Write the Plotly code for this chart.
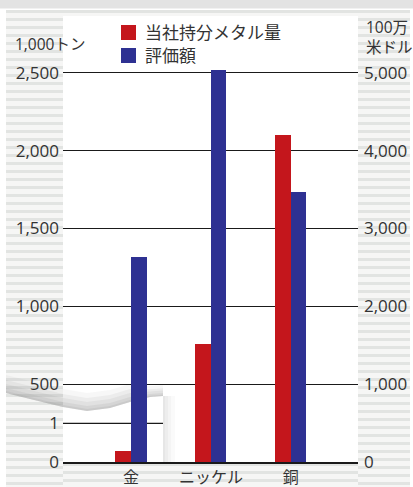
import plotly.graph_objects as go

# ---- data -------------------------------------------------------------
categories = ["金", "ニッケル", "銅"]
metal_kt = [0.29, 760, 2100]          # 当社持分メタル量 (1,000トン)
value_musd = [2630, 5030, 3470]       # 評価額 (100万米ドル)
inset_flags = [True, False, False]    # gold is read on the 0-1 inset scale

left_ticks = [500, 1000, 1500, 2000, 2500]
left_ticktext = ["500", "1,000", "1,500", "2,000", "2,500"]
inset_ticks = [0, 1]
right_ticks = [0, 1000, 2000, 3000, 4000, 5000]
right_ticktext = ["0", "1,000", "2,000", "3,000", "4,000", "5,000"]

RED = "#c4161c"
BLUE = "#2e3192"
TXT = "#333333"
FONT = "Open Sans, Noto Sans CJK JP"

# ---- geometry helpers (pixel -> paper) -------------------------------
WIDTH, HEIGHT = 413, 487
L, R, T, B = 63, 358, 16, 462
PW, PH = R - L, B - T


def px(x):
    return (x - L) / PW


def py(y):
    return (B - y) / PH


fig = go.Figure()

bar_w = 0.195
# red bars on the main left scale
main_idx = [i for i, f in enumerate(inset_flags) if not f]
fig.add_trace(go.Bar(
    x=[categories[i] for i in main_idx], y=[metal_kt[i] for i in main_idx],
    offset=-bar_w, width=bar_w, marker=dict(color=RED, line=dict(width=0)),
    yaxis="y", showlegend=False, hoverinfo="skip"))
# red bar read on the inset scale
inset_idx = [i for i, f in enumerate(inset_flags) if f]
fig.add_trace(go.Bar(
    x=[categories[i] for i in inset_idx], y=[metal_kt[i] for i in inset_idx],
    offset=-bar_w, width=bar_w, marker=dict(color=RED, line=dict(width=0)),
    yaxis="y3", showlegend=False, hoverinfo="skip"))
# blue bars on the right scale
fig.add_trace(go.Bar(
    x=categories, y=value_musd,
    offset=0, width=bar_w, marker=dict(color=BLUE, line=dict(width=0)),
    yaxis="y2", showlegend=False, hoverinfo="skip"))

shapes = []


def stripes(x0, x1, y0, y1, period=8, band=3):
    d = []
    y = y0
    while y < y1:
        yb = min(y + band, y1)
        d.append(f"M{px(x0)},{py(y)}L{px(x1)},{py(y)}L{px(x1)},{py(yb)}L{px(x0)},{py(yb)}Z")
        y += period
    return " ".join(d)


# striped surround
for (x0, x1, y0, y1) in [(6, L, 10, 487), (R, 410, 10, 487), (L, R, B + 1, 487), (6, 410, 10, 16)]:
    shapes.append(dict(type="rect", xref="paper", yref="paper",
                       x0=px(x0), x1=px(x1), y0=py(y0), y1=py(y1),
                       fillcolor="#f6f6f5", line=dict(width=0), layer="below"))
    shapes.append(dict(type="path", xref="paper", yref="paper",
                       path=stripes(x0, x1, y0, y1), fillcolor="#e2e4e2",
                       line=dict(width=0), layer="below"))

# top header band
shapes.append(dict(type="rect", xref="paper", yref="paper",
                   x0=px(0), x1=px(413), y0=py(0), y1=py(8.5),
                   fillcolor="#e3e3e3", line=dict(width=0), layer="below"))

# axis-break curl: curved shaded edge over a white sheet
curve = [(6, 393), (30, 399), (63, 407), (87, 411), (110, 408), (130, 402), (150, 397), (163, 396)]
for d, op in [(18, 0.07), (13, 0.09), (9, 0.11), (5, 0.13), (2, 0.15)]:
    top = [(x, y - d * (0.6 if x > 140 else 1.0)) for x, y in curve]
    pts = top + list(reversed(curve))
    shapes.append(dict(type="path", xref="paper", yref="paper",
                       path="M" + "L".join(f"{px(x)},{py(y)}" for x, y in pts) + "Z",
                       fillcolor="#8a8a8a", opacity=op, line=dict(width=0), layer="below"))
# soft shadow along the inset's right edge
for w, op in [(12, 0.04), (8, 0.05), (5, 0.06), (2, 0.07)]:
    shapes.append(dict(type="rect", xref="paper", yref="paper",
                       x0=px(163), x1=px(163 + w), y0=py(B), y1=py(396),
                       fillcolor="#8a8a8a", opacity=op, line=dict(width=0), layer="below"))

# inset gridline at "1" (short)
shapes.append(dict(type="line", xref="paper", yref="y3", x0=0, x1=px(163),
                   y0=1, y1=1, line=dict(color="#1a1a1a", width=1.3), layer="below"))

# legend
for (y0, col) in [(25, RED), (48, BLUE)]:
    shapes.append(dict(type="rect", xref="paper", yref="paper",
                       x0=px(121), x1=px(136), y0=py(y0 + 15), y1=py(y0),
                       fillcolor=col, line=dict(width=0)))

annotations = [
    dict(text="当社持分メタル量", x=px(143), y=py(32.5), xanchor="left", yanchor="middle", size=17),
    dict(text="評価額", x=px(143), y=py(55.5), xanchor="left", yanchor="middle", size=17),
    dict(text="1,000トン", x=px(13), y=py(44), xanchor="left", yanchor="middle", size=15.5),
    dict(text="100万<br>米ドル", x=px(364), y=py(37), xanchor="left", yanchor="middle",
         align="left", size=15.5),
]
for a in annotations:
    s = a.pop("size")
    a.update(xref="paper", yref="paper", showarrow=False,
             font=dict(family=FONT, size=s, color=TXT))

left_top = 2500 / ((B - 72.7) / PH)
fig.update_layout(
    width=WIDTH, height=HEIGHT,
    margin=dict(l=L, r=WIDTH - R, t=T, b=HEIGHT - B, autoexpand=False),
    paper_bgcolor="white", plot_bgcolor="white",
    barmode="overlay", bargap=0,
    font=dict(family=FONT, size=17, color=TXT),
    shapes=shapes, annotations=annotations,
    xaxis=dict(type="category", categoryorder="array", categoryarray=categories,
               range=[-0.85, 2.84], showgrid=False, zeroline=False, automargin=False,
               showline=True, linecolor="#1a1a1a", linewidth=1.5,
               ticks="", ticklabelstandoff=0, tickfont=dict(family=FONT, size=16, color=TXT)),
    yaxis=dict(range=[0, left_top], tickvals=left_ticks, ticktext=left_ticktext,
               showgrid=True, gridcolor="#1a1a1a", gridwidth=1.3, zeroline=False,
               automargin=False, ticks="", ticklabelstandoff=3),
    yaxis2=dict(range=[0, 2 * left_top], tickvals=right_ticks, ticktext=right_ticktext,
                overlaying="y", side="right", showgrid=False, zeroline=False,
                automargin=False, ticks="", ticklabelstandoff=5),
    yaxis3=dict(range=[0, PH / (B - 423.3)], tickvals=inset_ticks,
                overlaying="y", side="left", showgrid=False, zeroline=False,
                automargin=False, ticks="", ticklabelstandoff=3),
)

fig.write_html("out.html")
